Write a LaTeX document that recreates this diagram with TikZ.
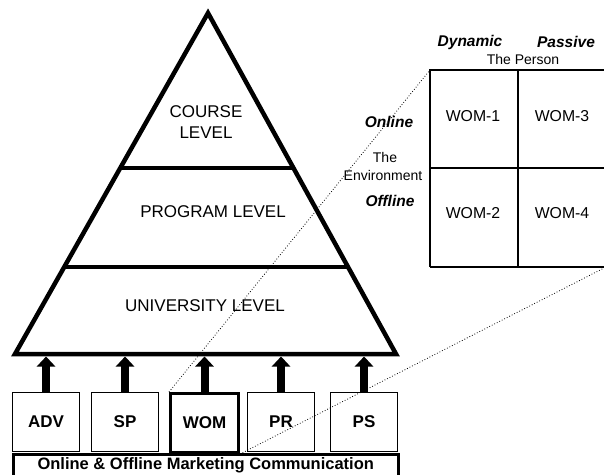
\documentclass[tikz,border=0pt]{standalone}
\usepackage{fontspec}
\setmainfont{Liberation Sans}
\usetikzlibrary{arrows.meta,calc}
\begin{document}
\begin{tikzpicture}[x=1pt,y=-1pt,
  lvl/.style={font=\fontsize{17}{21}\selectfont, align=center, inner sep=0},
  mbox/.style={draw, line width=1.1pt, minimum width=67pt, minimum height=59pt, anchor=north west, inner sep=0, font=\bfseries\fontsize{17}{20}\selectfont},
  bigarrow/.style={line width=8pt, -{Triangle[width=18pt,length=10pt]}, shorten >=-0.5pt},
  gridline/.style={line width=1.2pt},
  cell/.style={font=\fontsize{15.8}{18}\selectfont, inner sep=0},
  axis/.style={font=\bfseries\itshape\fontsize{15.5}{18}\selectfont, inner sep=0},
  small/.style={font=\fontsize{14}{16}\selectfont, inner sep=0},
  zoomline/.style={dotted, line width=0.8pt}]
\useasboundingbox (0,0) rectangle (604,474);
% pyramid
\coordinate (A) at (208,13);
\coordinate (BL) at (15,354);
\coordinate (BR) at (396,354);
\draw[line width=4.5pt, line join=miter] (A) -- (BR) -- (BL) -- cycle;
\draw[line width=4pt] ($(A)!0.455!(BL)$) -- ($(A)!0.455!(BR)$);
\draw[line width=4pt] ($(A)!0.745!(BL)$) -- ($(A)!0.745!(BR)$);
\coordinate (base) at (205,357);
\node[lvl] (course) at (206,122) {COURSE\\LEVEL};
\node[lvl] (program) at (213,212) {PROGRAM LEVEL};
\node[lvl] (univ) at (205,306) {UNIVERSITY LEVEL};
% boxes
\node[mbox] (adv) at (12,392) {ADV};
\node[mbox] (sp) at (91,392) {SP};
\node[mbox, line width=3pt, minimum width=68pt] (wom) at (169,392) {WOM};
\node[mbox] (pr) at (247,392) {PR};
\node[mbox] (ps) at (330,392) {PS};
\node[draw, line width=2.5pt, anchor=north west, minimum width=385pt, minimum height=23pt, inner sep=0,
  font=\bfseries\fontsize{16.5}{18}\selectfont] (bar) at (12,453) {Online \& Offline Marketing Communication};
% arrows
\foreach \b in {adv,sp,wom,pr,ps}
  \draw[bigarrow] (\b.north) -- (\b.north |- base);
% grid
\coordinate (g1) at (430,70);
\coordinate (g2) at (430,267);
\coordinate (g3) at (606,267);
\draw[gridline] (604,70) -- (g1) -- (g2);
\draw[gridline] (518,70) -- (518,267);
\draw[gridline] (430,168) -- (604,168);
\draw[line width=1.8pt] (g2) -- (604,267);
\node[cell] (w1) at (473,116) {WOM-1};
\node[cell] (w3) at (562,116) {WOM-3};
\node[cell] (w2) at (473,213) {WOM-2};
\node[cell] (w4) at (562,213) {WOM-4};
\node[axis] (dyn) at (470,42) {Dynamic};
\node[axis] (pas) at (566,42) {Passive};
\node[small] (person) at (523,59) {The Person};
\node[axis] (onl) at (389,122) {Online};
\node[small] (the) at (385,157) {The};
\node[small] (env) at (383,175) {Environment};
\node[axis] (off) at (390,201) {Offline};
% zoom lines
\draw[zoomline] (wom.north west) -- (g1);
\draw[zoomline] (wom.south east) -- (g3);
\end{tikzpicture}
\end{document}
